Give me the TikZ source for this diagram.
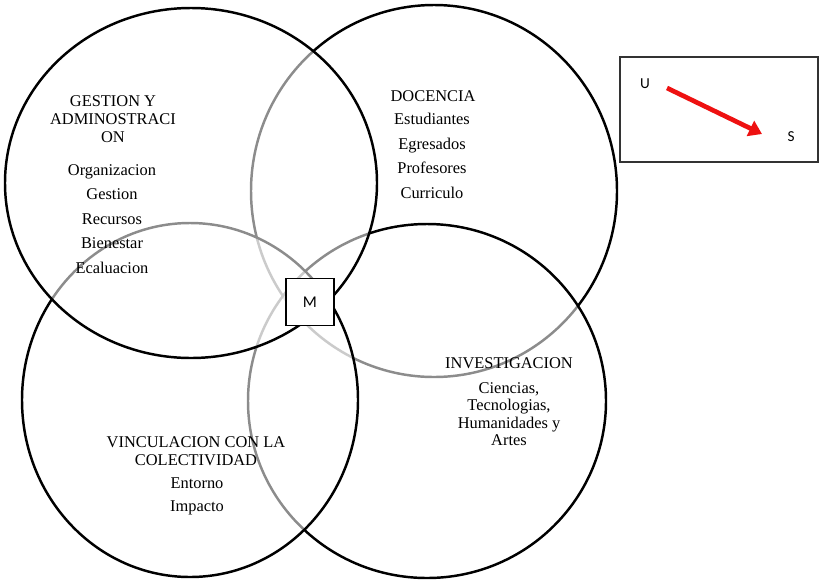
\documentclass[tikz,border=0pt]{standalone}
\usepackage{fontspec}
\setmainfont{Liberation Serif}
\newfontfamily\calib{Carlito}
\usepackage{tikz}
\usetikzlibrary{arrows.meta}
\usepackage{xcolor}
\definecolor{arrred}{HTML}{EE1111}

\begin{document}
\begin{tikzpicture}[x=0.03cm,y=-0.03cm,>=Triangle,
  ring/.style={line width=2.1pt,fill=white,fill opacity=0.55},
  head/.style={align=center,font=\fontsize{14}{15.4}\selectfont,inner sep=0pt},
  items/.style={align=center,inner sep=0pt}]
\useasboundingbox (0,0) rectangle (820,579);
% four areas, back one first so the overlaps grey out
\draw[ring] (434,191) ellipse[x radius=183,y radius=186];
\draw[ring] (427,401) ellipse[x radius=179,y radius=177];
\draw[ring] (190,400) ellipse[x radius=168,y radius=177];
\draw[ring] (191,183) ellipse[x radius=186,y radius=175];
% texts
\node[head] (gesth) at (113,119) {GESTION Y\\ADMINOSTRACI\\ON};
\node[items,font=\fontsize{14}{20.9}\selectfont] (gesti) at (112,219)
  {Organizacion\\Gestion\\Recursos\\Bienestar\\Ecaluacion};
\node[head] (doch) at (433,96) {DOCENCIA};
\node[items,font=\fontsize{14}{21}\selectfont] (doci) at (432,156)
  {Estudiantes\\Egresados\\Profesores\\Curriculo};
\node[head] (invh) at (509,363) {INVESTIGACION};
\node[items,font=\fontsize{14}{14.8}\selectfont] (invi) at (509,414)
  {Ciencias,\\Tecnologias,\\Humanidades y\\Artes};
\node[head] (vinh) at (196,451) {VINCULACION CON LA\\COLECTIVIDAD};
\node[items,font=\fontsize{14}{19.6}\selectfont] (vini) at (197,496)
  {Entorno\\Impacto};
% centre mark
\node[draw,line width=1.3pt,fill=white,minimum width=41pt,
  minimum height=40pt,font=\calib\fontsize{14}{14}\selectfont] (m) at (310,302) {M};
% legend
\draw[line width=1.1pt,draw=black!80] (620,57) rectangle (818,162);
\node[font=\calib\fontsize{13}{13}\selectfont] (u) at (645,84) {U};
\node[font=\calib\fontsize{13}{13}\selectfont] (s) at (791,137) {S};
\coordinate (arrs) at (667,88);
\coordinate (arre) at (762,134);
\draw[arrred,line width=4pt,-{Triangle[length=11pt,width=14pt]}] (arrs) -- (arre);
\end{tikzpicture}
\end{document}
